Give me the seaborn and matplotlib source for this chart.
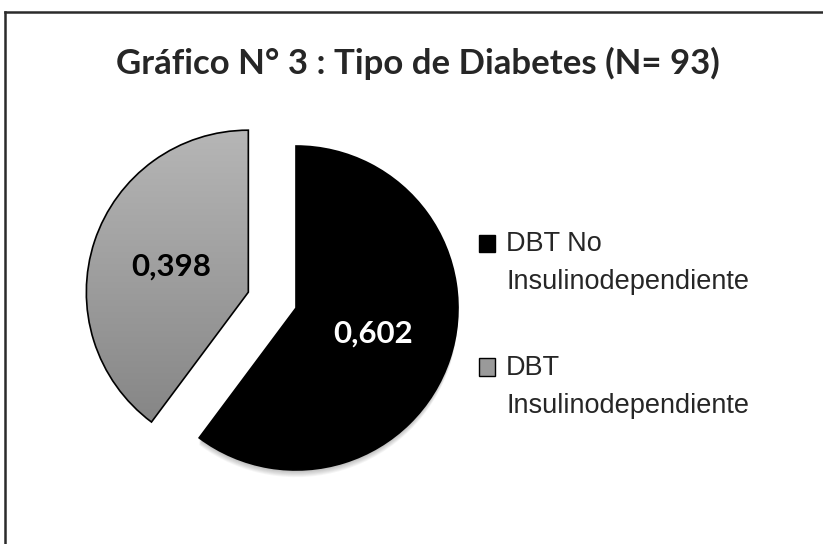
import numpy as np
import matplotlib
matplotlib.use("Agg")
import matplotlib.pyplot as plt
import seaborn as sns
from matplotlib.patches import Rectangle, Patch, Wedge
from matplotlib.lines import Line2D
from matplotlib.legend_handler import HandlerPatch
from matplotlib.colors import LinearSegmentedColormap

# datos del grafico
tipos = ["DBT No\nInsulinodependiente", "DBT\nInsulinodependiente"]
proporciones = [0.602, 0.398]
separacion = [0.0, 0.31]
colores = ["#000000", "#a0a0a0"]
color_texto = ["white", "black"]
titulo = "Gráfico N° 3 : Tipo de Diabetes (N= 93)"

sns.set_theme(style="white")
plt.rcParams["font.family"] = ["Liberation Sans Narrow", "Liberation Sans", "DejaVu Sans"]

W, H = 823, 544
fig = plt.figure(figsize=(W / 100, H / 100), dpi=100)

# marco del grafico: solo lado superior e izquierdo quedan dentro de la imagen
y_sup = 1 - 12 / H
x_izq = 5 / W
fig.add_artist(Line2D([x_izq, 1.05], [y_sup, y_sup], transform=fig.transFigure,
                      color="#2b2b2b", linewidth=1.8, solid_capstyle="projecting"))
fig.add_artist(Line2D([x_izq, x_izq], [-0.05, y_sup], transform=fig.transFigure,
                      color="#2b2b2b", linewidth=1.8, solid_capstyle="projecting"))

# ejes de la torta: centro (296, 308) px, radio 162 px
r_px = 162
lado = 3.0 * r_px
cx, cy = 296, H - 308
ax = fig.add_axes([(cx - lado / 2) / W, (cy - lado / 2) / H, lado / W, lado / H])

wedges, _, autotexts = ax.pie(
    proporciones, explode=separacion, colors=colores, startangle=90,
    counterclock=False, autopct=lambda p: f"{p / 100:.3f}".replace(".", ","),
    pctdistance=0.5, wedgeprops=dict(edgecolor="black", linewidth=1.2),
    textprops=dict(fontsize=22.5, fontweight="bold", family=["Lato", "DejaVu Sans"]),
)
ax.set_aspect("equal")
ax.axis("off")

for t, c in zip(autotexts, color_texto):
    t.set_color(c)

# sombra suave bajo la porcion negra
negra = wedges[0]
for k in range(1, 9):
    sombra = Wedge((negra.center[0], negra.center[1] - k * 0.9 / r_px), negra.r,
                   negra.theta1, negra.theta2, facecolor="black",
                   edgecolor="none", alpha=0.035, zorder=0.4)
    ax.add_patch(sombra)

# degradado gris en la porcion separada
gris = LinearSegmentedColormap.from_list("gris", ["#868686", "#b6b6b6"])
cuna = wedges[1]
ext = cuna.get_path().get_extents()
grad = np.linspace(0, 1, 256).reshape(-1, 1)
img = ax.imshow(grad, cmap=gris, origin="lower", aspect="auto",
                extent=[ext.x0, ext.x1, ext.y0, ext.y1], zorder=0.5)
img.set_clip_path(cuna)
cuna.set_facecolor("none")
ax.set_xlim(-1.5, 1.5)
ax.set_ylim(-1.5, 1.5)


# cuadrito de la leyenda alineado con la primera linea
class HandlerArriba(HandlerPatch):
    def create_artists(self, legend, orig_handle, xdescent, ydescent,
                       width, height, fontsize, trans):
        p = Rectangle((-xdescent, -ydescent + 0.74 * fontsize), width, height,
                      facecolor=orig_handle.get_facecolor(),
                      edgecolor="black", linewidth=1.0, transform=trans)
        return [p]


handles = [Patch(facecolor=colores[0]), Patch(facecolor="#9a9a9a")]
leg = fig.legend(handles, tipos, loc="upper left",
                 bbox_to_anchor=(479 / W, 1 - 231 / H), frameon=False,
                 fontsize=19.5, handlelength=0.6, handleheight=0.6,
                 handletextpad=0.4, labelspacing=2.2, borderpad=0,
                 borderaxespad=0, handler_map={Patch: HandlerArriba()})
for t in leg.get_texts():
    t.set_linespacing(1.6)

fig.text(0.508, 1 - 74 / H, titulo, ha="center", va="baseline",
         fontsize=25, fontweight="bold", family=["Lato", "DejaVu Sans"])

fig.savefig("out.png", dpi=100, facecolor="white")
